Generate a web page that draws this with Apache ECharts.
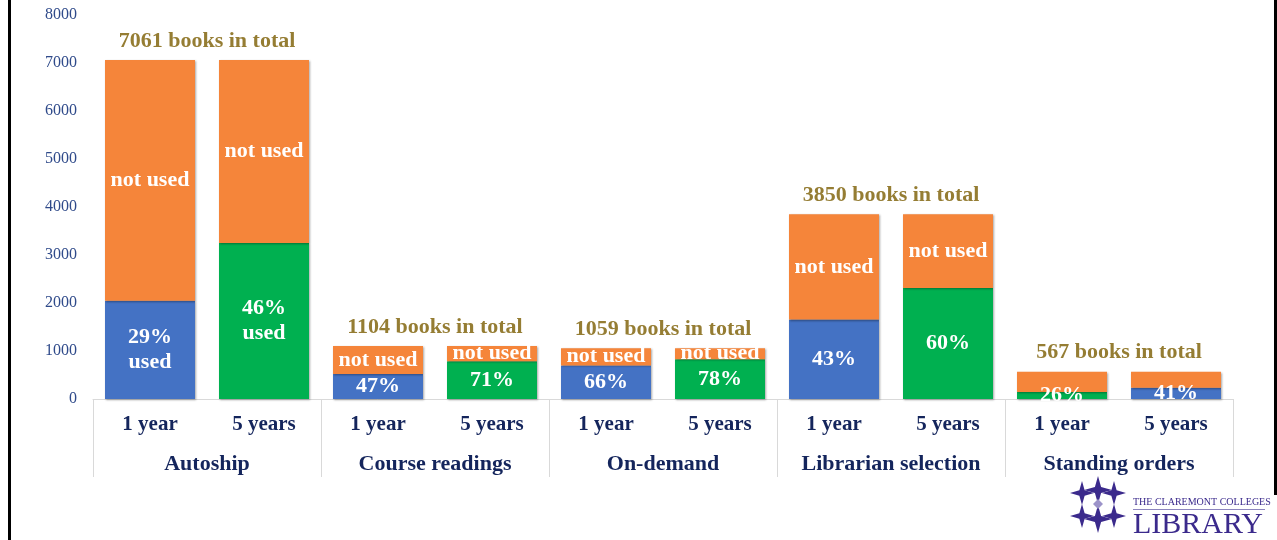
<!DOCTYPE html>
<html>
<head>
<meta charset="utf-8">
<title>Book usage</title>
<script src="https://cdn.jsdelivr.net/npm/echarts@6/dist/echarts.min.js"></script>
<style>
  html, body { margin: 0; padding: 0; background: #fff; }
  #chart { width: 1277px; height: 540px; }
</style>
</head>
<body>
<div id="chart"></div>
<script>
// 分组 / 年限
const groups = ['Autoship', 'Course readings', 'On-demand', 'Librarian selection', 'Standing orders']
const periods = ['1 year', '5 years']
const totals = [7061, 1104, 1059, 3850, 567]
// 每组两根柱子：1 year, 5 years
const usedValues = [2048, 3248, 519, 784, 699, 826, 1656, 2310, 147, 232]
const notUsedValues = [5013, 3813, 585, 320, 360, 233, 2194, 1540, 420, 335]
const usedLabels = ['29%\nused', '46%\nused', '47%', '71%', '66%', '78%', '43%', '60%', '26%', '41%']
const notUsedLabels = ['not used', 'not used', 'not used', 'not used', 'not used', 'not used', 'not used', 'not used', '', '']
const yTicks = [0, 1000, 2000, 3000, 4000, 5000, 6000, 7000, 8000]

const BLUE = '#4472C4'
const GREEN = '#00B050'
const ORANGE = '#F5853A'
const usedColors = [BLUE, GREEN, BLUE, GREEN, BLUE, GREEN, BLUE, GREEN, GREEN, BLUE]
const FONT = "'Liberation Serif', 'DejaVu Serif', serif"

const barCategories = []
groups.forEach(() => periods.forEach(p => barCategories.push(p)))

const chart = echarts.init(document.getElementById('chart'))

const gridBox = { left: 93, right: 44, top: 15, bottom: 141 }
const bevel = {
  shadowColor: 'rgba(0,0,0,0.35)',
  shadowBlur: 2,
  shadowOffsetX: 1,
  shadowOffsetY: 1
}
const whiteLabel = {
  show: true,
  position: 'inside',
  color: '#fff',
  fontFamily: FONT,
  fontWeight: 'bold',
  fontSize: 22,
  lineHeight: 25
}

// 简单的四角星（logo）
const star = (cx, cy, r) => {
  const k = r * 0.22
  return {
    type: 'polygon',
    shape: {
      points: [[cx, cy - r], [cx + k, cy - k], [cx + r, cy], [cx + k, cy + k],
        [cx, cy + r], [cx - k, cy + k], [cx - r, cy], [cx - k, cy - k]]
    },
    style: { fill: '#3B2A8C' }
  }
}

const option = {
  animation: false,
  grid: [Object.assign({}, gridBox), Object.assign({}, gridBox)],
  xAxis: [
    {
      type: 'category',
      gridIndex: 0,
      data: barCategories,
      axisLine: { show: true, lineStyle: { color: '#d9d9d9', width: 1 } },
      axisTick: {
        show: true,
        interval: (i) => i % 2 === 0,
        length: 78,
        lineStyle: { color: '#d9d9d9', width: 1 }
      },
      axisLabel: {
        interval: 0,
        margin: 15,
        color: '#14255C',
        fontFamily: FONT,
        fontWeight: 'bold',
        fontSize: 21
      }
    },
    {
      type: 'category',
      gridIndex: 1,
      data: groups,
      axisLine: { show: false },
      axisTick: { show: false },
      axisLabel: {
        interval: 0,
        margin: 54,
        color: '#14255C',
        fontFamily: FONT,
        fontWeight: 'bold',
        fontSize: 22
      }
    }
  ],
  yAxis: [
    {
      type: 'value',
      gridIndex: 0,
      min: yTicks[0],
      max: yTicks[yTicks.length - 1],
      interval: 1000,
      axisLine: { show: false },
      axisTick: { show: false },
      splitLine: { show: false },
      axisLabel: {
        margin: 16,
        color: '#2F4A8A',
        fontFamily: FONT,
        fontSize: 16,
        formatter: v => String(v)
      }
    },
    {
      type: 'value',
      gridIndex: 1,
      min: yTicks[0],
      max: yTicks[yTicks.length - 1],
      show: false
    }
  ],
  series: [
    {
      name: 'used',
      type: 'bar',
      stack: 'books',
      xAxisIndex: 0,
      yAxisIndex: 0,
      barWidth: 90,
      data: usedValues.map((v, i) => ({
        value: v,
        itemStyle: Object.assign({ color: usedColors[i] }, bevel),
        label: Object.assign({}, whiteLabel, { formatter: usedLabels[i] })
      }))
    },
    {
      name: 'not used',
      type: 'bar',
      stack: 'books',
      xAxisIndex: 0,
      yAxisIndex: 0,
      barWidth: 90,
      itemStyle: Object.assign({ color: ORANGE }, bevel),
      data: notUsedValues.map((v, i) => ({
        value: v,
        label: Object.assign({}, whiteLabel, {
          show: notUsedLabels[i] !== '',
          formatter: notUsedLabels[i]
        })
      }))
    },
    {
      name: 'total',
      type: 'scatter',
      xAxisIndex: 1,
      yAxisIndex: 1,
      symbolSize: 0,
      silent: true,
      z: 5,
      label: {
        show: true,
        position: 'top',
        distance: 8,
        color: '#7A5C00',
        fontFamily: FONT,
        fontWeight: 'bold',
        fontSize: 22,
        formatter: p => p.value + ' books in total'
      },
      data: totals
    }
  ],
  graphic: [
    { type: 'rect', shape: { x: 8, y: 0, width: 3, height: 540 }, style: { fill: '#000' } },
    { type: 'rect', shape: { x: 1274, y: 0, width: 3, height: 495 }, style: { fill: '#000' } },
    star(1082, 493, 12), star(1098, 490, 14), star(1114, 493, 12),
    star(1082, 516, 12), star(1098, 519, 14), star(1114, 516, 12),
    {
      type: 'polygon',
      shape: { points: [[1098, 499], [1103, 504], [1098, 509], [1093, 504]] },
      style: { fill: '#9C93C9' }
    },
    {
      type: 'text',
      x: 1133, y: 497,
      style: { text: 'THE CLAREMONT COLLEGES', fill: '#3B2A8C', font: '10px ' + FONT }
    },
    {
      type: 'rect',
      shape: { x: 1133, y: 509, width: 132, height: 1 },
      style: { fill: '#8C84BE' }
    },
    {
      type: 'text',
      x: 1133, y: 510,
      style: { text: 'LIBRARY', fill: '#3B2A8C', font: '30px ' + FONT }
    }
  ]
}

chart.setOption(option)
</script>
</body>
</html>
